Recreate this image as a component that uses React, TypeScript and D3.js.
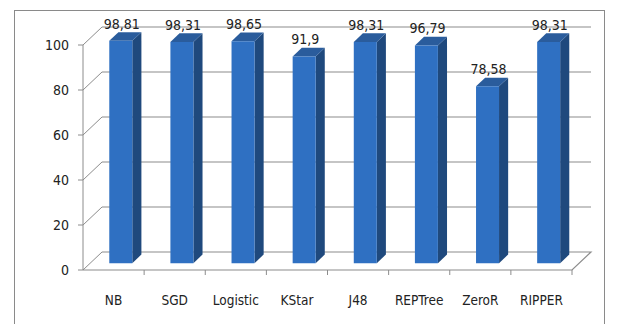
import React from "react";
import * as d3 from "d3";

const categories = ["NB", "SGD", "Logistic", "KStar", "J48", "REPTree", "ZeroR", "RIPPER"];
const values = [98.81, 98.31, 98.65, 91.9, 98.31, 96.79, 78.58, 98.31];
const valueLabels = ["98,81", "98,31", "98,65", "91,9", "98,31", "96,79", "78,58", "98,31"];
const yTicks = [0, 20, 40, 60, 80, 100];

const W = 617;
const H = 324;
const DX = 19;
const DY = -18;
const Z0 = 0.38;
const Z1 = 0.86;
const FONT = "'Liberation Sans Narrow', 'DejaVu Sans Condensed', 'Arial Narrow', sans-serif";

export default function App() {
  const x = d3.scaleBand<string>().domain(categories).range([83, 572]).paddingInner(0).paddingOuter(0);
  const y = d3.scaleLinear().domain([0, 100]).range([270, 45]);
  const P = (px: number, v: number, z: number): [number, number] => [px + z * DX, y(v) + z * DY];
  const pts = (arr: [number, number][]) => arr.map((p) => p.join(",")).join(" ");
  const barHalf = 11.5;
  const grid = "#8c8c8c";

  return (
    <svg width={W} height={H} style={{ position: "absolute", left: 0, top: 0, background: "#fff" }}>
      <rect x={14.5} y={10.5} width={590} height={330} fill="none" stroke="#8a8a8a" strokeWidth={1} />
      {/* back wall gridlines and left wall diagonals */}
      {yTicks.map((t) => {
        const a = P(83, t, 0);
        const b = P(83, t, 1);
        const c = P(572, t, 1);
        return (
          <g key={t}>
            {t !== 0 && <line x1={b[0]} y1={b[1]} x2={c[0]} y2={c[1]} stroke={grid} strokeWidth={1.2} />}
            <line x1={a[0]} y1={a[1]} x2={b[0]} y2={b[1]} stroke={grid} strokeWidth={1} />
            <line x1={78} y1={y(t)} x2={83} y2={y(t)} stroke={grid} strokeWidth={1} />
            <text x={69} y={y(t) + 5} textAnchor="end" fontSize={14} fontFamily={FONT} fill="#222">
              {t}
            </text>
          </g>
        );
      })}
      {/* floor */}
      <polyline
        points={pts([P(83, 0, 1), P(572, 0, 1), P(572, 0, 0), P(83, 0, 0)])}
        fill="none"
        stroke={grid}
        strokeWidth={1.2}
      />
      <line x1={83} y1={y(0)} x2={83} y2={y(100)} stroke={grid} strokeWidth={1} />
      {/* x ticks */}
      {categories.map((c, i) => {
        const xr = (x(c) as number) + x.bandwidth();
        return <line key={"t" + i} x1={xr} y1={y(0)} x2={xr} y2={y(0) + 5} stroke={grid} strokeWidth={1} />;
      })}
      {/* bars */}
      {categories.map((c, i) => {
        const cx = (x(c) as number) + x.bandwidth() / 2;
        const l = cx - barHalf;
        const r = cx + barHalf;
        const v = values[i];
        const fTL = P(l, v, Z0);
        const fTR = P(r, v, Z0);
        const fBR = P(r, 0, Z0);
        const fBL = P(l, 0, Z0);
        const bTL = P(l, v, Z1);
        const bTR = P(r, v, Z1);
        const bBR = P(r, 0, Z1);
        return (
          <g key={c}>
            <polygon points={pts([fTR, bTR, bBR, fBR])} fill="#1f497d" />
            <polygon points={pts([fTL, bTL, bTR, fTR])} fill="#2a5c9c" />
            <polygon points={pts([fTL, fTR, fBR, fBL])} fill="#2f70c2" />
            <text
              x={(fTL[0] + fTR[0]) / 2 + 1}
              y={fTL[1] - 12}
              textAnchor="middle"
              fontSize={14}
              fontFamily={FONT}
              fill="#222"
            >
              {valueLabels[i]}
            </text>
            <text x={cx} y={305} textAnchor="middle" fontSize={13.5} fontFamily={FONT} fill="#222">
              {c}
            </text>
          </g>
        );
      })}
    </svg>
  );
}
